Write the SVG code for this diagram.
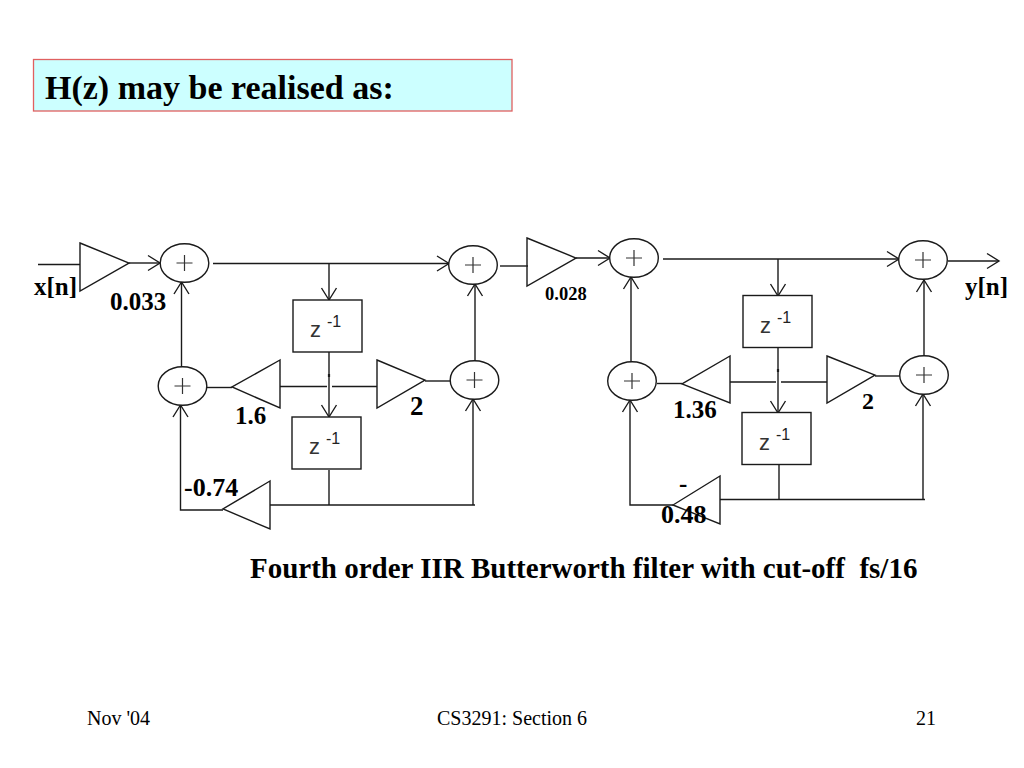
<svg xmlns="http://www.w3.org/2000/svg" width="1024" height="768" viewBox="0 0 1024 768">
<style>
.n{fill:none;stroke:#1a1a1a;stroke-width:1.4}
.w{fill:#fff;stroke:#1a1a1a;stroke-width:1.4}
.p{fill:none;stroke:#333;stroke-width:1.2}
.c{fill:none;stroke:#1a1a1a;stroke-width:1.4}
.a{marker-end:url(#arr)}
text{font-family:"Liberation Serif","Times New Roman",serif;fill:#000;white-space:pre}
.b{font-weight:bold;font-size:25px}
.z{font-family:"Liberation Sans",Arial,sans-serif;fill:#333;font-size:22px}
.m{font-family:"Liberation Sans",Arial,sans-serif;fill:#222;font-size:16px}
.f{font-size:20px}
</style>
<defs>
<marker id="arr" markerUnits="userSpaceOnUse" markerWidth="20" markerHeight="20" refX="16" refY="10" orient="auto" overflow="visible">
<path d="M4,2.500 L16,10 L4,17.500" fill="none" stroke="#1a1a1a" stroke-width="1.4"/>
</marker>
<g id="sum"><ellipse rx="24.3" ry="19.3" class="w"/><path d="M-8,0H8M0,-8V8" class="p"/></g>
<g id="zbox"><rect width="69" height="52" class="w"/><text x="17" y="37" class="z">z</text><text x="34" y="27" class="m">-1</text></g>
</defs>
<rect width="1024" height="768" fill="#fff"/>
<g id="title"><rect x="33.500" y="59.500" width="478.500" height="51.500" fill="#ccffff" stroke="#e06060" stroke-width="1.300"/><text x="45" y="98.500" font-size="34" font-weight="bold">H(z) may be realised as:</text></g>
<g id="connectors">
<path class="c" d="M38,264.500H80"/>
<path class="c a" d="M129,263H160"/>
<path class="c a" d="M181.500,367V282"/>
<path class="c" d="M207,387.500H232"/>
<path class="c a" d="M213,263.500H449"/>
<path class="c a" d="M329,263.500V300"/>
<path class="c a" d="M329,352V417"/>
<path class="c" d="M280,386.500H327M332,386.500H377"/>
<path d="M329,374V377" fill="none" stroke="#1a1a1a" stroke-width="2.200"/>
<path class="c" d="M425,381H450"/>
<path class="c a" d="M475,361V284"/>
<path class="c" d="M500,266H528"/>
<path class="c" d="M329,470V505"/>
<path class="c" d="M270,505H475"/>
<path class="c a" d="M223,510H180.500V405"/>
<path class="c a" d="M473,505V399"/>
<path class="c a" d="M576,258H610"/>
<path class="c a" d="M631,362V277"/>
<path class="c" d="M657,383.500H682"/>
<path class="c a" d="M663,259H899"/>
<path class="c a" d="M778,259V296"/>
<path class="c a" d="M778,347V413"/>
<path class="c" d="M730,382H776M781,382H827"/>
<path d="M778,369V372" fill="none" stroke="#1a1a1a" stroke-width="2.200"/>
<path class="c" d="M875,376H900"/>
<path class="c a" d="M924,356V280"/>
<path class="c a" d="M948,261H999"/>
<path class="c" d="M779,465V500"/>
<path class="c" d="M720,499.500H925"/>
<path class="c a" d="M673,505H630V400"/>
<path class="c a" d="M923,500V394"/>
</g>
<g id="g1"><path class="n" d="M80,243L129,263L80,291Z"/></g>
<g id="s1"><use href="#sum" x="184.500" y="263"/></g>
<g id="s2"><use href="#sum" x="182.500" y="386"/></g>
<g id="g2"><path class="n" d="M280,360L232,387L280,408Z"/></g>
<g id="z1"><use href="#zbox" x="293" y="300"/></g>
<g id="g3"><path class="n" d="M377,360L425,380L377,408Z"/></g>
<g id="s3"><use href="#sum" x="474.500" y="380"/></g>
<g id="s4"><use href="#sum" x="473" y="265"/></g>
<g id="z2"><use href="#zbox" x="292" y="417"/></g>
<g id="g4"><path class="n" d="M270,481L223,509L270,529Z"/></g>
<g id="g5"><path class="n" d="M527,238L576,258L527,286Z"/></g>
<g id="s5"><use href="#sum" x="634" y="258"/></g>
<g id="s6"><use href="#sum" x="632" y="381"/></g>
<g id="g6"><path class="n" d="M730,356L682,384L730,403Z"/></g>
<g id="z3"><use href="#zbox" x="743" y="295.500"/></g>
<g id="g7"><path class="n" d="M827,356L875,375L827,403Z"/></g>
<g id="s7"><use href="#sum" x="924" y="375"/></g>
<g id="s8"><use href="#sum" x="923" y="260"/></g>
<g id="z4"><use href="#zbox" x="742" y="412.500"/></g>
<g id="g8"><path class="n" d="M720,476L673,505L720,524Z"/></g>
<g id="labels">
<text x="34" y="295" class="b">x[n]</text>
<text x="110" y="310" class="b">0.033</text>
<text x="235" y="424" class="b">1.6</text>
<text x="410" y="415" font-size="27" font-weight="bold">2</text>
<text x="184" y="496" font-size="26" font-weight="bold">-0.74</text>
<text x="545" y="300" font-size="18.500" font-weight="bold">0.028</text>
<text x="673" y="418" class="b">1.36</text>
<text x="862" y="409" font-size="24" font-weight="bold">2</text>
<text x="679" y="492" class="b">-</text>
<text x="661" y="523" font-size="26" font-weight="bold">0.48</text>
<text x="965" y="295" class="b">y[n]</text>
<text x="250" y="578" font-size="29" font-weight="bold">Fourth order IIR Butterworth filter with cut-off  fs/16</text>
</g>
<g id="footer">
<text x="87" y="725" class="f">Nov '04</text>
<text x="437" y="725" class="f">CS3291: Section 6</text>
<text x="916" y="725" class="f">21</text>
</g>
</svg>
